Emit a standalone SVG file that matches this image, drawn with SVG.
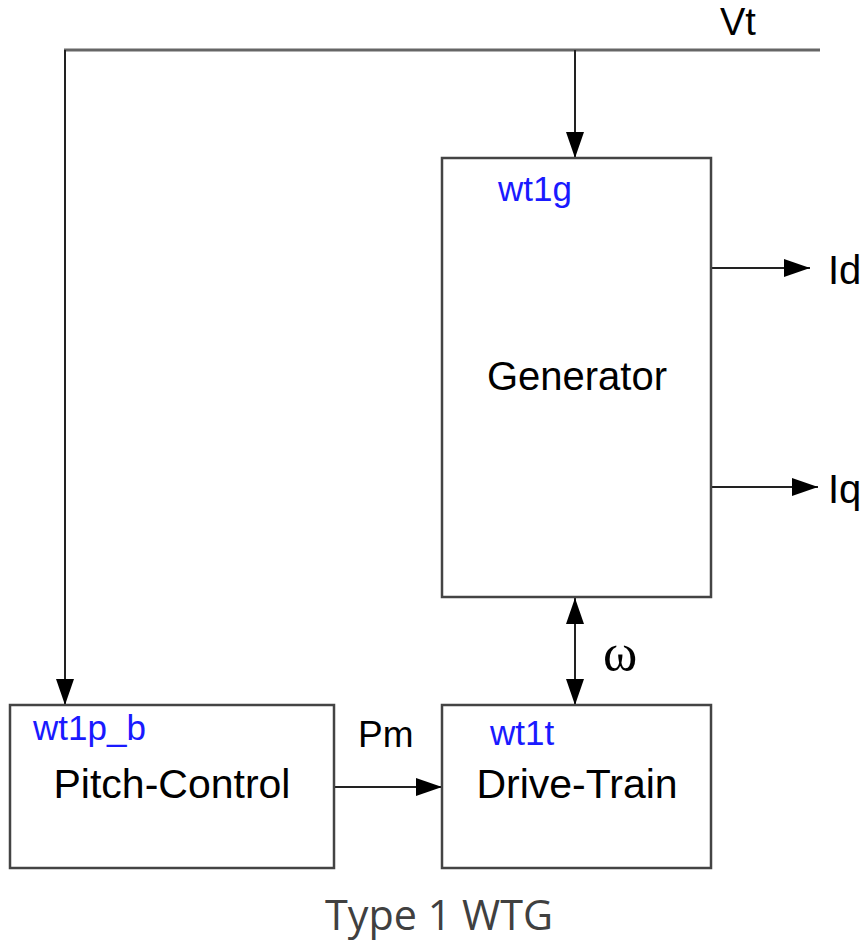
<svg xmlns="http://www.w3.org/2000/svg" width="868" height="943" viewBox="0 0 868 943">
<defs>
<marker id="ah" viewBox="0 0 26 18" refX="26" refY="9" markerWidth="26" markerHeight="18" markerUnits="userSpaceOnUse" orient="auto-start-reverse">
<path d="M0,0 L26,9 L0,18 Z" fill="#000"/>
</marker>
<style>
.box{fill:#fff;stroke:#444;stroke-width:2.5}
.ln{fill:none;stroke:#222;stroke-width:2}
.lbl{font-family:"Liberation Sans",Arial,sans-serif;fill:#000}
.blue{font-family:"Liberation Sans",Arial,sans-serif;fill:#1a1aff}
.cap{font-family:"Open Sans","Liberation Sans",sans-serif;fill:#404040}
</style>
</defs>
<rect width="868" height="943" fill="#fff"/>
<g id="connectors">
<line x1="64" y1="50" x2="820" y2="50" stroke="#666" stroke-width="3"/>
<line class="ln" x1="65" y1="50" x2="65" y2="705" marker-end="url(#ah)"/>
<line class="ln" x1="575" y1="50" x2="575" y2="158" marker-end="url(#ah)"/>
<line class="ln" x1="711" y1="268" x2="810" y2="268" marker-end="url(#ah)"/>
<line class="ln" x1="711" y1="487" x2="818" y2="487" marker-end="url(#ah)"/>
<line class="ln" x1="575" y1="598" x2="575" y2="705" marker-start="url(#ah)" marker-end="url(#ah)"/>
<line class="ln" x1="335" y1="787" x2="442" y2="787" marker-end="url(#ah)"/>
<text class="lbl" x="720" y="35" font-size="38">Vt</text>
<text class="lbl" x="828" y="284" font-size="40">Id</text>
<text class="lbl" x="828" y="503" font-size="40">Iq</text>
<text class="lbl" x="358" y="747" font-size="37">Pm</text>
<text x="603" y="670" font-size="52" font-family="'Liberation Serif','Times New Roman',serif" fill="#000">ω</text>
</g>
<g id="generator">
<rect class="box" x="442" y="158" width="269" height="439"/>
<text class="blue" x="498" y="201" font-size="35">wt1g</text>
<text class="lbl" x="577" y="390" font-size="40" text-anchor="middle">Generator</text>
</g>
<g id="pitch-control">
<rect class="box" x="10" y="705" width="324" height="163"/>
<text class="blue" x="33" y="740" font-size="35">wt1p_b</text>
<text class="lbl" x="172" y="798" font-size="41" text-anchor="middle">Pitch-Control</text>
</g>
<g id="drive-train">
<rect class="box" x="442" y="705" width="269" height="163"/>
<text class="blue" x="490" y="745" font-size="35">wt1t</text>
<text class="lbl" x="577" y="798" font-size="41" text-anchor="middle">Drive-Train</text>
</g>
<text class="cap" x="325" y="930" font-size="42" textLength="228" lengthAdjust="spacingAndGlyphs">Type 1 WTG</text>
</svg>
